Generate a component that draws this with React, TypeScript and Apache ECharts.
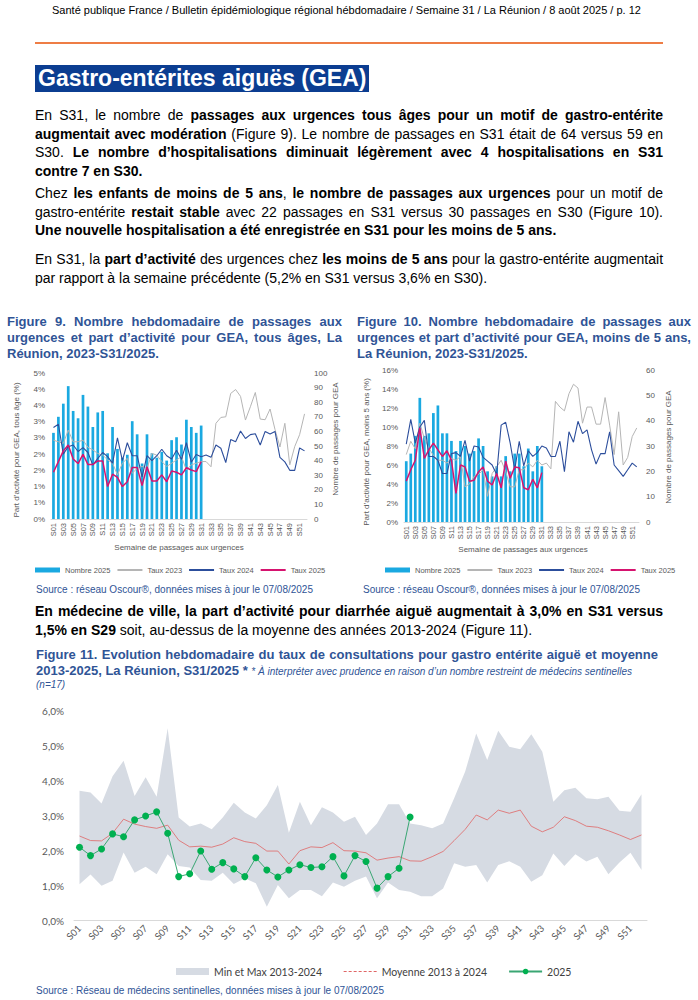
import React, { useEffect, useRef } from 'react';
import * as echarts from 'echarts';

const weeks = ['S01','S02','S03','S04','S05','S06','S07','S08','S09','S10','S11','S12','S13','S14','S15','S16','S17','S18','S19','S20','S21','S22','S23','S24','S25','S26','S27','S28','S29','S30','S31','S32','S33','S34','S35','S36','S37','S38','S39','S40','S41','S42','S43','S44','S45','S46','S47','S48','S49','S50','S51','S52'];

// Figure 9 — tous âges
const fig9Count2025 = [59, 70, 79, 91, 74, 69, 85, 77, 63, 73, 74, 45, 63, 48, 42, 44, 67, 58, 38, 58, 45, 42, 46, 40, 54, 56, 51, 68, 63, 59, 64];
const fig9Rate2023 = [2.43, 2.38, 2.33, 2.74, 2.38, 2.38, 2.43, 2.21, 2.13, 2.02, 1.97, 1.82, 1.72, 1.36, 1.72, 1.87, 1.41, 1.56, 1.62, 1.56, 2.02, 1.97, 1.77, 1.62, 1.72, 1.82, 1.92, 1.51, 1.67, 1.72, 1.77, 1.77, 1.61, 2.95, 3.13, 3.15, 3.87, 3.99, 3.78, 3.05, 3.46, 3.9, 3.08, 3.06, 3.39, 2.76, 2.22, 2.95, 1.67, 2.23, 2.6, 3.24];
const fig9Rate2024 = [2.82, 2.92, 2.0, 2.23, 2.28, 2.08, 2.2, 2.05, 1.66, 1.87, 2.05, 1.92, 1.72, 2.5, 1.8, 2.35, 1.95, 1.95, 1.3, 1.95, 1.8, 1.95, 2.15, 1.95, 1.85, 2.12, 1.84, 2.35, 1.75, 1.99, 1.92, 1.97, 1.9, 2.28, 2.18, 1.74, 2.45, 2.38, 2.71, 2.48, 2.6, 2.63, 2.28, 2.7, 2.62, 2.7, 1.9, 1.76, 1.5, 1.5, 2.19, 2.1];
const fig9Rate2025 = [1.44, 1.77, 2.1, 2.28, 1.85, 1.71, 1.99, 1.68, 1.68, 1.79, 1.79, 1.0, 1.38, 1.28, 1.0, 1.15, 1.59, 1.59, 1.03, 1.61, 1.17, 1.17, 1.36, 1.15, 1.48, 1.44, 1.36, 1.58, 1.51, 1.46, 1.77];

// Figure 10 — moins de 5 ans
const fig10Count2025 = [24, 27, 34, 49, 34, 35, 43, 46, 35, 35, 32, 28, 32, 30, 27, 28, 33, 30, 20, 18, 22, 18, 26, 20, 27, 27, 22, 29, 20, 30, 22];
const fig10Rate2023 = [7.1, 8.5, 7.7, 10.4, 8.8, 7.8, 7.0, 6.5, 6.5, 6.2, 6.7, 6.5, 6.9, 3.7, 4.0, 4.8, 5.0, 5.5, 2.7, 5.1, 5.8, 6.5, 5.3, 3.7, 3.7, 5.5, 5.5, 6.2, 5.8, 6.5, 6.0, 6.2, 5.6, 12.7, 12.1, 11.7, 13.5, 14.5, 14.1, 10.4, 12.1, 12.1, 10.3, 10.3, 13.1, 10.2, 7.1, 11.6, 6.0, 6.8, 9.0, 9.9];
const fig10Rate2024 = [8.2, 10.8, 8.3, 10.0, 10.7, 6.9, 6.9, 6.5, 5.1, 5.1, 7.2, 7.3, 6.9, 8.6, 6.4, 8.0, 7.9, 6.8, 6.4, 6.0, 5.0, 10.2, 10.5, 8.3, 5.5, 8.5, 5.9, 7.5, 6.9, 7.3, 8.0, 7.8, 6.9, 6.9, 8.5, 5.3, 9.5, 8.4, 10.6, 9.3, 9.7, 7.6, 6.1, 7.2, 7.2, 9.5, 6.0, 5.4, 4.8, 5.5, 6.2, 5.8];
const fig10Rate2025 = [4.3, 5.5, 6.5, 9.9, 6.7, 7.6, 8.3, 7.6, 6.9, 7.5, 6.5, 3.0, 6.0, 5.8, 4.3, 4.4, 5.3, 5.8, 4.3, 3.9, 5.1, 3.6, 6.4, 4.6, 5.8, 5.7, 3.6, 3.4, 4.5, 3.6, 5.2];

// Figure 11 — médecins sentinelles (%)
const fig11Min = [1.04, 1.32, 1.0, 1.14, 1.95, 1.37, 1.54, 1.33, 1.9, 1.56, 1.52, 1.16, 1.14, 1.37, 1.05, 1.21, 1.07, 0.4, 1.02, 0.64, 0.88, 0.88, 0.7, 1.09, 0.97, 1.14, 1.26, 0.64, 1.09, 0.88, 0.83, 0.7, 0.7, 0.92, 1.64, 1.54, 1.59, 1.09, 1.59, 1.7, 1.54, 1.11, 1.3, 1.92, 1.56, 1.9, 1.69, 1.83, 1.33, 1.66, 1.94, 1.45];
const fig11Max = [3.71, 3.66, 3.35, 4.13, 4.57, 3.56, 4.1, 3.54, 5.5, 2.95, 2.69, 2.78, 2.61, 2.95, 3.37, 3.09, 2.92, 3.3, 3.88, 2.51, 3.4, 2.73, 3.24, 3.09, 2.83, 2.97, 2.45, 2.78, 3.33, 3.33, 2.78, 2.73, 2.64, 2.78, 3.5, 4.26, 5.35, 4.59, 5.43, 4.97, 4.9, 5.33, 4.83, 3.4, 3.73, 3.8, 3.5, 3.47, 3.54, 3.14, 3.11, 3.61];
const fig11Mean = [2.42, 2.29, 2.28, 2.5, 2.9, 2.76, 2.69, 2.64, 2.73, 2.3, 2.11, 2.13, 2.1, 2.19, 2.37, 2.26, 2.21, 1.99, 1.99, 1.62, 2.0, 2.11, 2.09, 2.23, 2.0, 1.99, 1.94, 1.73, 1.79, 1.83, 1.71, 1.7, 1.83, 1.98, 2.29, 2.61, 3.02, 2.88, 3.16, 3.07, 3.16, 2.7, 2.54, 2.67, 2.97, 2.86, 2.7, 2.67, 2.57, 2.45, 2.32, 2.45];
const fig11Y2025 = [2.1, 1.86, 2.05, 2.48, 2.4, 2.88, 2.99, 3.11, 2.5, 1.26, 1.34, 1.99, 1.47, 1.66, 1.48, 1.26, 1.8, 1.45, 1.25, 1.45, 1.6, 1.52, 1.54, 1.83, 1.28, 1.86, 1.69, 0.93, 1.26, 1.5, 2.96];

const ARIAL = '"Liberation Sans", Arial, Helvetica, sans-serif';
const CAL = 'Lato, "Liberation Sans", sans-serif';
const BLUE = '#2F5496';
const GREY = '#595959';
const NO_DOT = { opacity: 0 };

type UrgParams = {
  gridLeft: number; gridTop: number; gridWidth: number; gridHeight: number;
  leftMax: number; leftInterval: number; leftFmt: (v: number) => string;
  rightMax: number; rightInterval: number;
  count: number[]; r23: number[]; r24: number[]; r25: number[];
  leftName: string; leftNameX: number; leftNameY: number;
  rightNameX: number; rightNameY: number; xNameX: number; xNameY: number;
  legendLeft: number; legendTop: number;
};

function urgencesOption(p: UrgParams) {
  const lbl = { fontSize: 8, color: GREY, fontFamily: ARIAL };
  return {
    animation: false,
    textStyle: { fontFamily: ARIAL },
    grid: { left: p.gridLeft, top: p.gridTop, width: p.gridWidth, height: p.gridHeight },
    legend: {
      left: p.legendLeft, top: p.legendTop, itemWidth: 25, itemHeight: 5, itemGap: 6,
      textStyle: { fontSize: 7.5, color: GREY, fontFamily: ARIAL },
      data: [
        { name: 'Nombre 2025', icon: 'rect' },
        { name: 'Taux 2023', itemStyle: NO_DOT },
        { name: 'Taux 2024', itemStyle: NO_DOT },
        { name: 'Taux 2025', itemStyle: NO_DOT },
      ],
    },
    xAxis: {
      type: 'category', data: weeks, boundaryGap: true,
      axisLine: { lineStyle: { color: '#d9d9d9' } }, axisTick: { show: false },
      axisLabel: { interval: 1, rotate: 90, fontSize: 7.5, color: GREY, margin: 4 },
    },
    yAxis: [
      {
        type: 'value', min: 0, max: p.leftMax, interval: p.leftInterval,
        axisLine: { show: false }, axisTick: { show: false }, splitLine: { show: false },
        axisLabel: { ...lbl, formatter: p.leftFmt, margin: 6 },
      },
      {
        type: 'value', min: 0, max: p.rightMax, interval: p.rightInterval, position: 'right',
        axisLine: { show: false }, axisTick: { show: false }, splitLine: { show: false },
        axisLabel: { ...lbl, margin: 7 },
      },
    ],
    series: [
      { name: 'Nombre 2025', type: 'bar', yAxisIndex: 1, data: p.count, barWidth: 2.7, itemStyle: { color: '#1AA9E1' } },
      { name: 'Taux 2023', type: 'line', yAxisIndex: 0, data: p.r23, symbol: 'none', lineStyle: { color: '#b5b5b5', width: 1 }, itemStyle: { color: '#b5b5b5' } },
      { name: 'Taux 2024', type: 'line', yAxisIndex: 0, data: p.r24, symbol: 'none', lineStyle: { color: '#2C4E9C', width: 1.1 }, itemStyle: { color: '#2C4E9C' } },
      { name: 'Taux 2025', type: 'line', yAxisIndex: 0, data: p.r25, symbol: 'none', lineStyle: { color: '#D6136F', width: 1.5 }, itemStyle: { color: '#D6136F' } },
    ],
    graphic: [
      { type: 'text', x: p.leftNameX, y: p.leftNameY, rotation: Math.PI / 2, style: { text: p.leftName, fontSize: 8, fill: GREY, fontFamily: ARIAL, align: 'center', verticalAlign: 'middle' } },
      { type: 'text', x: p.rightNameX, y: p.rightNameY, rotation: Math.PI / 2, style: { text: 'Nombre de passages pour GEA', fontSize: 8, fill: GREY, fontFamily: ARIAL, align: 'center', verticalAlign: 'middle' } },
      { type: 'text', x: p.xNameX, y: p.xNameY, style: { text: 'Semaine de passages aux urgences', fontSize: 8, fill: GREY, fontFamily: ARIAL, align: 'center', verticalAlign: 'middle' } },
    ],
  };
}

const option9 = urgencesOption({
  gridLeft: 51, gridTop: 13, gridWidth: 256, gridHeight: 146,
  leftMax: 4.5, leftInterval: 0.5, leftFmt: (v: number) => Math.round(v) + '%',
  rightMax: 100, rightInterval: 10,
  count: fig9Count2025, r23: fig9Rate2023, r24: fig9Rate2024, r25: fig9Rate2025,
  leftName: 'Part d’activité pour GEA, tous âge (%)', leftNameX: 16, leftNameY: 90,
  rightNameX: 335, rightNameY: 79, xNameX: 179, xNameY: 187,
  legendLeft: 30, legendTop: 201,
});

const option10 = urgencesOption({
  gridLeft: 54, gridTop: 10, gridWidth: 235, gridHeight: 152,
  leftMax: 16, leftInterval: 2, leftFmt: (v: number) => v + '%',
  rightMax: 60, rightInterval: 10,
  count: fig10Count2025, r23: fig10Rate2023, r24: fig10Rate2024, r25: fig10Rate2025,
  leftName: 'Part d’activité pour GEA, moins 5 ans (%)', leftNameX: 16, leftNameY: 92,
  rightNameX: 318, rightNameY: 87, xNameX: 173, xNameY: 189,
  legendLeft: 30, legendTop: 201,
});

const BAND = '#D6DBE3';
const option11 = {
  animation: false,
  textStyle: { fontFamily: CAL },
  grid: { left: 74, top: 15.7, width: 573, height: 210 },
  legend: {
    left: 171, top: 266, itemWidth: 33, itemHeight: 7, itemGap: 21,
    textStyle: { fontSize: 10.5, color: '#404040', fontFamily: CAL },
    data: [
      { name: 'Min et Max 2013-2024', icon: 'rect', itemStyle: { color: BAND, opacity: 1 } },
      { name: 'Moyenne 2013 à 2024', itemStyle: NO_DOT, lineStyle: { type: [3, 2], width: 1.2, color: '#E06666', opacity: 1 } },
      { name: '2025' },
    ],
  },
  xAxis: {
    type: 'category', data: weeks, boundaryGap: true,
    axisLine: { lineStyle: { color: '#d9d9d9' } }, axisTick: { show: false },
    axisLabel: { interval: 1, rotate: 45, fontSize: 9.5, color: GREY, margin: 6 },
  },
  yAxis: {
    type: 'value', min: 0, max: 6, interval: 1,
    axisLine: { show: false }, axisTick: { show: false }, splitLine: { show: false },
    axisLabel: { fontSize: 10, color: GREY, margin: 10, formatter: (v: number) => v.toFixed(1).replace('.', ',') + '%' },
  },
  series: [
    { name: 'bandMin', type: 'line', stack: 'band', data: fig11Min, symbol: 'none', lineStyle: { opacity: 0 }, silent: true },
    {
      name: 'Min et Max 2013-2024', type: 'line', stack: 'band',
      data: fig11Max.map((v, i) => +(v - fig11Min[i]).toFixed(2)),
      symbol: 'none', lineStyle: { opacity: 0 }, areaStyle: { color: BAND, opacity: 1 }, itemStyle: { color: BAND },
    },
    { name: 'Moyenne 2013 à 2024', type: 'line', data: fig11Mean, symbol: 'none', lineStyle: { color: '#E06666', width: 0.8 }, itemStyle: { color: '#E06666' } },
    { name: '2025', type: 'line', data: fig11Y2025, symbol: 'circle', symbolSize: 7, lineStyle: { color: '#3AA673', width: 1 }, itemStyle: { color: '#00B050' } },
  ],
};

function EChart({ option, style }: { option: any; style: React.CSSProperties }) {
  const ref = useRef<HTMLDivElement>(null);
  useEffect(() => {
    const chart = echarts.init(ref.current as HTMLDivElement, undefined, { renderer: 'svg' });
    chart.setOption(option);
    return () => chart.dispose();
  }, [option]);
  return <div ref={ref} style={{ position: 'absolute', ...style }} />;
}

function Line({ top, left, width, fs, lh, j, style, children }: { top: number; left: number; width: number; fs: number; lh: number; j?: boolean; style?: React.CSSProperties; children: React.ReactNode }) {
  return (
    <div style={{ position: 'absolute', top, left, width, fontSize: fs, lineHeight: lh + 'px', whiteSpace: 'nowrap', textAlign: j ? 'justify' : 'left', textAlignLast: j ? 'justify' : 'left', ...style }}>
      {children}
    </div>
  );
}

const B = ({ children }: { children: React.ReactNode }) => <b>{children}</b>;

export default function App() {
  const P = { fs: 14, lh: 18.5, left: 35, width: 628 };
  const T = { fs: 13, lh: 16, style: { fontWeight: 700, color: BLUE } as React.CSSProperties };
  const S = { fs: 10, lh: 12, style: { color: BLUE } as React.CSSProperties };
  return (
    <div style={{ position: 'absolute', left: 0, top: 0, width: 698, height: 1000, overflow: 'hidden', background: '#fff', fontFamily: ARIAL, color: '#000' }}>
      <Line top={4} left={52} width={600} fs={11} lh={12}>Santé publique France / Bulletin épidémiologique régional hébdomadaire / Semaine 31 / La Réunion / 8 août 2025 / p. 12</Line>
      <div style={{ position: 'absolute', left: 35, top: 42, width: 628, height: 2, background: '#EE7D45' }} />
      <div style={{ position: 'absolute', left: 35, top: 65, height: 27, lineHeight: '27px', padding: '0 3px', background: '#0B3D91', color: '#fff', fontWeight: 700, fontSize: 23, whiteSpace: 'nowrap' }}>Gastro-entérites aiguës (GEA)</div>

      <Line top={106} {...P} j>En S31, le nombre de <B>passages aux urgences tous âges pour un motif de gastro-entérite</B></Line>
      <Line top={124.5} {...P} j><B>augmentait avec modération</B> (Figure 9). Le nombre de passages en S31 était de 64 versus 59 en</Line>
      <Line top={143} {...P} j>S30. <B>Le nombre d’hospitalisations diminuait légèrement avec 4 hospitalisations en S31</B></Line>
      <Line top={161.5} {...P}><B>contre 7 en S30.</B></Line>

      <Line top={184} {...P} j>Chez <B>les enfants de moins de 5 ans</B>, <B>le nombre de passages aux urgences</B> pour un motif de</Line>
      <Line top={202.5} {...P} j>gastro-entérite <B>restait stable</B> avec 22 passages en S31 versus 30 passages en S30 (Figure 10).</Line>
      <Line top={221} {...P}><B>Une nouvelle hospitalisation a été enregistrée en S31 pour les moins de 5 ans.</B></Line>

      <Line top={250} {...P} j>En S31, la <B>part d’activité</B> des urgences chez <B>les moins de 5 ans</B> pour la gastro-entérite augmentait</Line>
      <Line top={268.5} {...P}>par rapport à la semaine précédente (5,2% en S31 versus 3,6% en S30).</Line>

      <Line top={314} left={7} width={335} {...T} j>Figure 9. Nombre hebdomadaire de passages aux</Line>
      <Line top={330} left={7} width={335} {...T} j>urgences et part d’activité pour GEA, tous âges, La</Line>
      <Line top={346} left={7} width={335} {...T}>Réunion, 2023-S31/2025.</Line>

      <Line top={314} left={357} width={334} {...T} j>Figure 10. Nombre hebdomadaire de passages aux</Line>
      <Line top={330} left={357} width={334} {...T} j>urgences et part d’activité pour GEA, moins de 5 ans,</Line>
      <Line top={346} left={357} width={334} {...T}>La Réunion, 2023-S31/2025.</Line>

      <EChart option={option9} style={{ left: 0, top: 360, width: 350, height: 220 }} />
      <EChart option={option10} style={{ left: 350, top: 360, width: 348, height: 220 }} />

      <Line top={584} left={36} width={300} {...S}>Source : réseau Oscour®, données mises à jour le 07/08/2025</Line>
      <Line top={584} left={363} width={300} {...S}>Source : réseau Oscour®, données mises à jour le 07/08/2025</Line>

      <Line top={602} {...P} j><B>En médecine de ville, la part d’activité pour diarrhée aiguë augmentait à 3,0% en S31 versus</B></Line>
      <Line top={620.5} {...P}><B>1,5% en S29</B> soit, au-dessus de la moyenne des années 2013-2024 (Figure 11).</Line>

      <Line top={647} left={36} width={622} {...T} j>Figure 11. Evolution hebdomadaire du taux de consultations pour gastro entérite aiguë et moyenne</Line>
      <Line top={663} left={36} width={622} {...T}>2013-2025, La Réunion, S31/2025 * <span style={{ fontSize: 10, fontWeight: 400, fontStyle: 'italic' }}>* À interpréter avec prudence en raison d’un nombre restreint de médecins sentinelles</span></Line>
      <Line top={679} left={36} width={200} fs={10} lh={12} style={{ color: BLUE, fontStyle: 'italic' }}>(n=17)</Line>

      <EChart option={option11} style={{ left: 0, top: 695, width: 698, height: 305 }} />

      <Line top={985} left={36} width={500} {...S}>Source : Réseau de médecins sentinelles, données mises à jour le 07/08/2025</Line>
    </div>
  );
}
